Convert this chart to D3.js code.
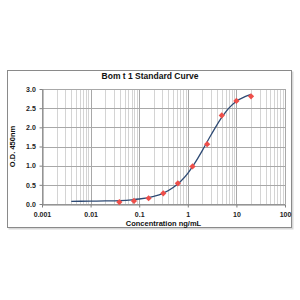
<!DOCTYPE html>
<html>
<head>
<meta charset="utf-8">
<script src="https://cdn.jsdelivr.net/npm/d3@7"></script>
<style>
  body { margin: 0; background: #fff; }
  text { font-family: "Liberation Sans", Arial, sans-serif; }
</style>
</head>
<body>
<div id="chart"></div>
<script>
// standards (ng/mL) and measured O.D.
const concentrations = [0.039, 0.078, 0.156, 0.313, 0.625, 1.25, 2.5, 5, 10, 20];
const odValues       = [0.05, 0.08, 0.15, 0.28, 0.54, 0.98, 1.56, 2.31, 2.69, 2.81];

// fitted curve
const curveX = [0.004, 0.01, 0.02, 0.04, 0.07, 0.1, 0.2, 0.3, 0.5, 0.7, 1, 1.5, 2, 3, 5, 7, 10, 15, 20];
const curveY = [0.07, 0.075, 0.08, 0.09, 0.11, 0.13, 0.2, 0.27, 0.43, 0.58, 0.8, 1.13, 1.4, 1.8, 2.26, 2.5, 2.68, 2.8, 2.86];

const xTicks = [0.001, 0.01, 0.1, 1, 10, 100];
const xTickLabels = ["0.001", "0.01", "0.1", "1", "10", "100"];
const yTicks = [0, 0.5, 1, 1.5, 2, 2.5, 3];

const width = 300, height = 300;
const margin = { left: 42, right: 15, top: 89, bottom: 96 };

const svg = d3.select("#chart").append("svg")
    .attr("width", width)
    .attr("height", height);

// outer frame with a faint shadow
svg.append("rect")
    .attr("x", 8.5).attr("y", 71.5)
    .attr("width", 285).attr("height", 158)
    .attr("fill", "#d8d8d8");
svg.append("rect")
    .attr("x", 7.5).attr("y", 70.5)
    .attr("width", 284).attr("height", 157)
    .attr("fill", "#fff")
    .attr("stroke", "#8a8a8a");

const x = d3.scaleLog()
    .domain([0.001, 100])
    .range([margin.left, width - margin.right]);
const y = d3.scaleLinear()
    .domain([0, 3])
    .range([height - margin.bottom, margin.top]);

const grid = svg.append("g");

// minor vertical lines (2..9 in each decade)
const minor = [];
for (let e = -3; e < 2; e++) {
    for (let m = 2; m <= 9; m++) minor.push(m * Math.pow(10, e));
}
grid.selectAll(".minor").data(minor).join("line")
    .attr("x1", d => Math.round(x(d)) + 0.5).attr("x2", d => Math.round(x(d)) + 0.5)
    .attr("y1", y(0)).attr("y2", y(3))
    .attr("stroke", "#d4d4d4").attr("stroke-width", 1);

grid.selectAll(".major").data(xTicks).join("line")
    .attr("x1", d => Math.round(x(d)) + 0.5).attr("x2", d => Math.round(x(d)) + 0.5)
    .attr("y1", y(0)).attr("y2", y(3))
    .attr("stroke", "#a8a8a8").attr("stroke-width", 1);

grid.selectAll(".hgrid").data(yTicks).join("line")
    .attr("x1", x(0.001)).attr("x2", x(100))
    .attr("y1", d => Math.round(y(d)) + 0.5).attr("y2", d => Math.round(y(d)) + 0.5)
    .attr("stroke", "#a8a8a8").attr("stroke-width", 1);

// axes
const xAxis = svg.append("g")
    .attr("transform", `translate(0,${Math.round(y(0)) + 0.5})`)
    .call(d3.axisBottom(x).tickValues(xTicks).tickFormat((d, i) => xTickLabels[i]).tickSize(3).tickSizeOuter(0));
const yAxis = svg.append("g")
    .attr("transform", `translate(${Math.round(x(0.001)) + 0.5},0)`)
    .call(d3.axisLeft(y).tickValues(yTicks).tickFormat(d3.format(".1f")).tickSize(3).tickSizeOuter(0));

[xAxis, yAxis].forEach(a => {
    a.select(".domain").attr("stroke", "#808080");
    a.selectAll(".tick line").attr("stroke", "#808080");
    a.selectAll(".tick text")
        .attr("fill", "#222")
        .style("font-size", "7px")
        .style("font-weight", "bold");
});
xAxis.selectAll(".tick text").attr("dy", "0.9em");
yAxis.selectAll(".tick text").attr("dx", "-0.1em");

// fitted curve
const curvePts = curveX.map((c, i) => [c, curveY[i]]);
svg.append("path")
    .datum(curvePts)
    .attr("fill", "none")
    .attr("stroke", "#2e4a74")
    .attr("stroke-width", 1.3)
    .attr("d", d3.line().x(d => x(d[0])).y(d => y(d[1])).curve(d3.curveMonotoneX));

// standards
svg.selectAll(".pt").data(concentrations).join("rect")
    .attr("x", d => x(d) - 2.2)
    .attr("y", (d, i) => y(odValues[i]) - 2.2)
    .attr("width", 4.4).attr("height", 4.4)
    .attr("transform", (d, i) => `rotate(45,${x(d)},${y(odValues[i])})`)
    .attr("fill", "#ee4f4a");

// titles
svg.append("text")
    .attr("x", 150).attr("y", 79)
    .attr("text-anchor", "middle")
    .style("font-size", "8.5px").style("font-weight", "bold")
    .attr("fill", "#111")
    .text("Bom t 1 Standard Curve");

svg.append("text")
    .attr("x", (x(0.001) + x(100)) / 2).attr("y", 226)
    .attr("text-anchor", "middle")
    .style("font-size", "7.5px").style("font-weight", "bold")
    .attr("fill", "#111")
    .text("Concentration ng/mL");

svg.append("text")
    .attr("transform", `translate(15,${y(1.5)}) rotate(-90)`)
    .attr("text-anchor", "middle")
    .style("font-size", "7.5px").style("font-weight", "bold")
    .attr("fill", "#111")
    .text("O.D. 450nm");
</script>
</body>
</html>
